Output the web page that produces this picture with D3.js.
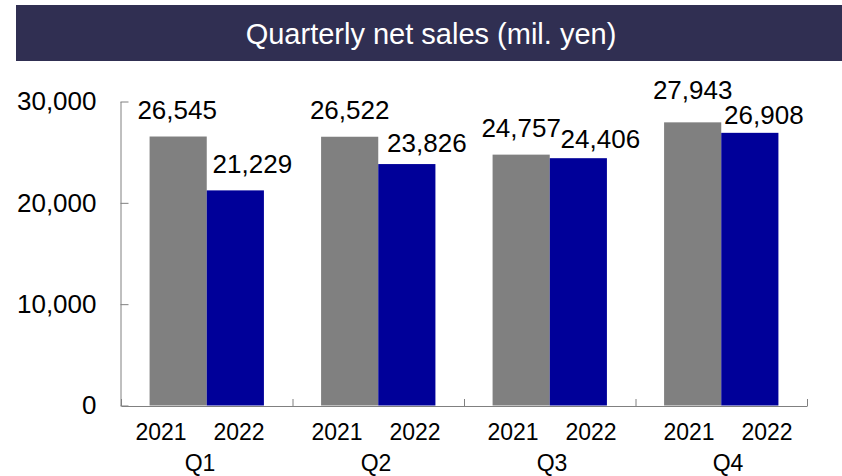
<!DOCTYPE html>
<html lang="en">
<head>
<meta charset="utf-8">
<script src="https://cdn.jsdelivr.net/npm/d3@7"></script>
<style>
    body { margin: 0; background: #fff; }
    text { font-family: "Liberation Sans", Arial, sans-serif; font-weight: normal; }
</style>
</head>
<body>
<div id="chart"></div>
<script>
    // chart data
    var quarters = ["Q1", "Q2", "Q3", "Q4"];
    var years = ["2021", "2022"];
    var sales2021 = [26545, 26522, 24757, 27943];
    var sales2022 = [21229, 23826, 24406, 26908];
    var yTicks = [0, 10000, 20000, 30000];
    var title = "Quarterly net sales (mil. yen)";

    var width = 842, height = 476;
    var colors = {"2021": "#808080", "2022": "#000099"};

    // label nudges (dx, gap above bar) - the labels were moved by hand in the original
    var labelNudge = {
        "2021": [[-1, 18], [0, 17.5], [0, 18], [0, 23.5]],
        "2022": [[17, 17.3], [20, 11.6], [22, 10.5], [14, 9]]
    };

    var rows = [];
    quarters.forEach(function (q, i) {
        rows.push({q: q, i: i, year: "2021", value: sales2021[i]});
        rows.push({q: q, i: i, year: "2022", value: sales2022[i]});
    });

    var svg = d3.select("#chart").append("svg")
        .attr("width", width)
        .attr("height", height);

    // title band
    svg.append("rect")
        .attr("x", 16).attr("y", 5)
        .attr("width", width - 16).attr("height", 56)
        .attr("fill", "#302f52");
    svg.append("text")
        .attr("x", 431).attr("y", 44)
        .attr("text-anchor", "middle")
        .attr("fill", "#fff")
        .style("font-size", "29px")
        .text(title);

    // scales
    var x0 = d3.scaleBand().domain(quarters).range([121, 807]).padding(0);
    var x1 = d3.scaleBand().domain(years).range([0, x0.bandwidth()])
        .paddingInner(0).paddingOuter(0.5);
    var y = d3.scaleLinear().domain([0, 30000]).range([405.5, 101.5]);

    // bars
    svg.selectAll(".bar")
        .data(rows)
        .enter()
        .append("rect")
        .attr("class", "bar")
        .attr("x", function (d) { return x0(d.q) + x1(d.year); })
        .attr("y", function (d) { return y(d.value); })
        .attr("width", x1.bandwidth())
        .attr("height", function (d) { return y(0) - y(d.value); })
        .attr("fill", function (d) { return colors[d.year]; });

    // value labels
    svg.selectAll(".val")
        .data(rows)
        .enter()
        .append("text")
        .attr("class", "val")
        .attr("x", function (d) { return x0(d.q) + x1(d.year) + x1.bandwidth() / 2 + labelNudge[d.year][d.i][0]; })
        .attr("y", function (d) { return y(d.value) - labelNudge[d.year][d.i][1]; })
        .attr("text-anchor", "middle")
        .style("font-size", "26px")
        .text(function (d) { return d3.format(",")(d.value); });

    // y axis
    var yAxis = svg.append("g")
        .attr("transform", "translate(120.5,0)")
        .call(d3.axisLeft(y).tickValues(yTicks).tickFormat(d3.format(","))
            .tickSizeInner(-8).tickSizeOuter(0).tickPadding(24));
    yAxis.selectAll("path, line").attr("stroke", "#808080");
    yAxis.selectAll("text")
        .attr("fill", "#000")
        .style("font-size", "26px")
        .style("font-family", "'Liberation Sans', Arial, sans-serif");

    // x axis: baseline with ticks between quarters
    var xb = d3.scaleLinear().domain([0, quarters.length]).range([121, 807]);
    var xAxis = svg.append("g")
        .attr("transform", "translate(0,406)")
        .call(d3.axisBottom(xb).tickValues(d3.range(quarters.length + 1))
            .tickFormat(function () { return ""; })
            .tickSizeInner(-7).tickSizeOuter(0));
    xAxis.selectAll("path, line").attr("stroke", "#808080");

    // category labels (years and quarters)
    var qLabel = d3.scalePoint().domain(quarters).range([200, 728]);
    var yearOffset = d3.scalePoint().domain(years).range([-39, 39]);

    svg.selectAll(".yr")
        .data(rows)
        .enter()
        .append("text")
        .attr("class", "yr")
        .attr("x", function (d) { return qLabel(d.q) + yearOffset(d.year); })
        .attr("y", 440)
        .attr("text-anchor", "middle")
        .attr("fill", "#000")
        .style("font-family", "'Liberation Sans', Arial, sans-serif")
        .style("font-size", "23px")
        .text(function (d) { return d.year; });

    svg.selectAll(".ql")
        .data(quarters)
        .enter()
        .append("text")
        .attr("class", "ql")
        .attr("x", function (d) { return qLabel(d); })
        .attr("y", 471)
        .attr("text-anchor", "middle")
        .attr("fill", "#000")
        .style("font-family", "'Liberation Sans', Arial, sans-serif")
        .style("font-size", "23px")
        .text(function (d) { return d; });
</script>
</body>
</html>
